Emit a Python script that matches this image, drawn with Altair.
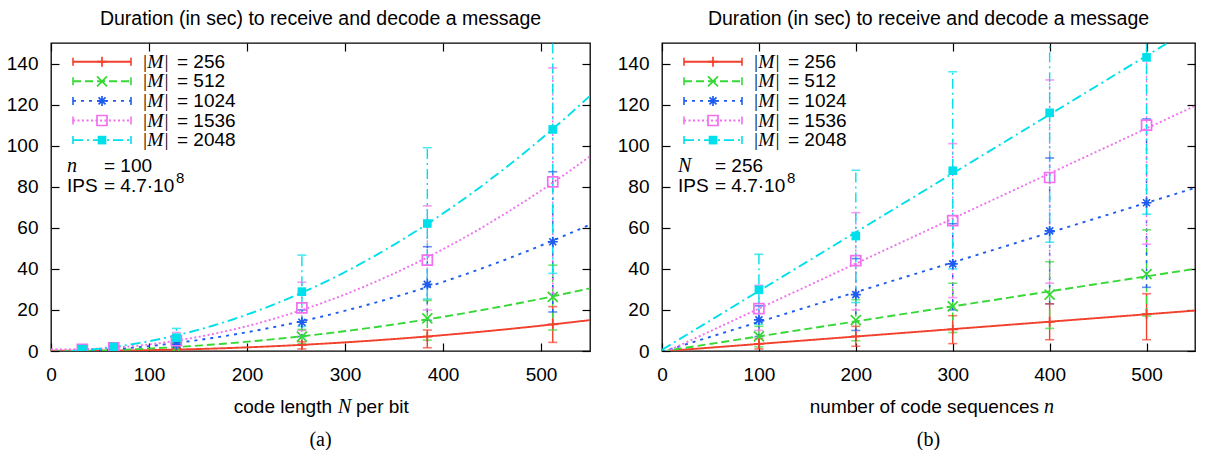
import altair as alt
import pandas as pd

SANS = "Liberation Sans"
SERIF = "Liberation Serif"

SERIES = ["256", "512", "1024", "1536", "2048"]
COLORS = ["#f2402c", "#36d836", "#1e5cf0", "#f070f0", "#00e0ea"]
DASHES = [[1, 0], [8, 4], [3, 5], [2, 2.5], [10, 4, 2, 4]]
SHAPES = ["M-1,0H1M0,-1V1", "M-1,-1L1,1M-1,1L1,-1",
          "M-1,0H1M0,-1V1M-0.7,-0.7L0.7,0.7M-0.7,0.7L0.7,-0.7",
          "square", "square"]

TITLE = "Duration (in sec) to receive and decode a message"
X_TICKS = [0, 100, 200, 300, 400, 500]
Y_TICKS = [0, 20, 40, 60, 80, 100, 120, 140]

# ---- panel (a): code length N per bit ----
A_X = [32, 64, 128, 256, 384, 512]
A_Y_256 = [0.1, 0.2, 0.8, 3.0, 7.0, 13.0]
A_LO_256 = [0.0, 0.1, 0.3, 1.0, 1.6, 4.2]
A_HI_256 = [0.3, 0.5, 1.5, 4.5, 10.2, 21.6]
A_Y_512 = [0.2, 0.4, 1.6, 7.0, 15.9, 26.4]
A_LO_512 = [0.1, 0.2, 0.8, 3.5, 5.3, 10.2]
A_HI_512 = [0.4, 0.8, 2.6, 10.5, 24.6, 41.8]
A_Y_1024 = [0.4, 0.8, 3.2, 14.0, 32.4, 53.2]
A_LO_1024 = [0.2, 0.4, 1.5, 7.0, 15.0, 19.0]
A_HI_1024 = [0.7, 1.4, 5.0, 20.0, 50.8, 87.3]
A_Y_1536 = [0.8, 1.5, 5.0, 21.0, 44.3, 82.4]
A_LO_1536 = [0.3, 0.7, 2.5, 10.0, 20.0, 28.0]
A_HI_1536 = [1.3, 2.5, 9.0, 33.5, 70.7, 137.9]
A_Y_2048 = [0.9, 2.0, 6.5, 28.9, 62.1, 107.9]
A_LO_2048 = [0.4, 1.0, 3.0, 12.0, 25.3, 37.8]
A_HI_2048 = [1.5, 3.0, 11.0, 46.7, 99.0, 175.0]

# ---- panel (b): number of code sequences n ----
B_X = [100, 200, 300, 400, 500]
B_Y_256 = [3.5, 7.1, 10.5, 14.2, 18.0]
B_LO_256 = [1.0, 2.3, 3.6, 5.5, 5.5]
B_HI_256 = [6.0, 12.0, 17.2, 23.0, 27.9]
B_Y_512 = [7.1, 15.0, 21.7, 27.5, 37.4]
B_LO_512 = [2.0, 5.0, 9.0, 11.0, 17.0]
B_HI_512 = [12.0, 25.0, 33.0, 43.5, 59.0]
B_Y_1024 = [15.2, 27.5, 42.4, 58.5, 72.2]
B_LO_1024 = [7.0, 10.0, 20.0, 23.0, 31.0]
B_HI_1024 = [22.0, 45.0, 62.0, 94.0, 113.0]
B_Y_1536 = [20.6, 44.0, 63.5, 84.5, 110.0]
B_LO_1536 = [10.0, 20.0, 26.0, 33.0, 52.0]
B_HI_1536 = [32.0, 67.4, 101.0, 132.0, 170.0]
B_Y_2048 = [29.8, 56.0, 87.8, 116.0, 143.0]
B_LO_2048 = [13.0, 23.6, 40.0, 53.0, 66.6]
B_HI_2048 = [47.1, 88.0, 136.0, 175.0, 220.0]

W_LEFT, W_RIGHT, H = 539, 533, 308
LEG_Y = [18.7, 38.3, 57.9, 77.5, 97.1]

color = alt.Color("series:N", scale=alt.Scale(domain=SERIES, range=COLORS), legend=None)
dash = alt.StrokeDash("series:N", scale=alt.Scale(domain=SERIES, range=DASHES), legend=None)
shape = alt.Shape("series:N", scale=alt.Scale(domain=SERIES, range=SHAPES), legend=None)


def axis(orient, values, labels=True):
    kw = dict(orient=orient, values=values, offset=-8, tickSize=8, tickColor="black",
              tickWidth=1.2, domain=False, grid=False, title=None, labels=labels)
    if labels:
        kw.update(labelFont=SANS, labelFontSize=19, labelColor="black",
                  labelPadding=14 if orient == "bottom" else 13, labelFlush=False,
                  labelOverlap=False)
    return alt.Axis(**kw)


def panel(xs, means, lows, highs, method, order, var_sym, var_val, xt_left, xt_sym, xt_right,
          xt_pos, sub, width):
    rows = []
    for s, m, lo, hi in zip(SERIES, means, lows, highs):
        for x, a, b, c in zip(xs, m, lo, hi):
            rows.append({"series": s, "x": x, "y": a, "lo": b, "hi": c})
    df = pd.DataFrame(rows)
    xsc = alt.Scale(domain=[0, 550], nice=False, zero=False)
    ysc = alt.Scale(domain=[0, 150], nice=False)
    base = alt.Chart(df)
    X = alt.X("x:Q", scale=xsc, axis=None)

    bars = base.mark_rule(strokeWidth=1.4, clip=True).encode(
        x=X, y=alt.Y("lo:Q", scale=ysc, axis=None), y2="hi:Q", color=color, strokeDash=dash)
    cap_lo = base.mark_tick(orient="horizontal", size=9, thickness=1.6, clip=True).encode(
        x=X, y=alt.Y("lo:Q", axis=None), color=color)
    cap_hi = base.mark_tick(orient="horizontal", size=9, thickness=1.6, clip=True).encode(
        x=X, y=alt.Y("hi:Q", axis=None), color=color)
    fit = base.transform_regression(
        "x", "y", groupby=["series"], method=method, order=order, extent=[0, 550]
    ).mark_line(strokeWidth=1.9, clip=True).encode(
        x=alt.X("x:Q", scale=xsc, axis=axis("bottom", X_TICKS)),
        y=alt.Y("y:Q", scale=ysc, axis=axis("left", Y_TICKS)),
        color=color, strokeDash=dash)
    mirror = base.mark_point(opacity=0).encode(
        x=alt.X("x:Q", axis=axis("top", X_TICKS, False)),
        y=alt.Y("y:Q", axis=axis("right", Y_TICKS, False)))
    pts_open = base.transform_filter(alt.datum.series != "2048").mark_point(
        filled=False, size=100, strokeWidth=1.7, opacity=1, clip=True).encode(
        x=X, y=alt.Y("y:Q", axis=None), color=color, shape=shape)
    pts_fill = base.transform_filter(alt.datum.series == "2048").mark_point(
        filled=True, shape="square", size=75, opacity=1, clip=True).encode(
        x=X, y=alt.Y("y:Q", axis=None), color=color)

    # legend (top-left, inside the plot)
    leg = pd.DataFrame({"series": SERIES, "ry": LEG_Y, "eq": ["= " + s for s in SERIES]})
    leg["r1"] = leg["ry"] - 4
    leg["r2"] = leg["ry"] + 4
    lb = alt.Chart(leg)
    PY = alt.Y("ry:Q", scale=None, axis=None)
    leg_line = lb.mark_rule(strokeWidth=1.9).encode(
        x=alt.value(22), x2=alt.value(80), y=PY, color=color, strokeDash=dash)
    leg_c1 = lb.mark_rule(strokeWidth=1.6).encode(
        x=alt.value(22), y=alt.Y("r1:Q", scale=None, axis=None), y2="r2:Q", color=color)
    leg_c2 = lb.mark_rule(strokeWidth=1.6).encode(
        x=alt.value(80), y=alt.Y("r1:Q", scale=None, axis=None), y2="r2:Q", color=color)
    leg_po = lb.transform_filter(alt.datum.series != "2048").mark_point(
        filled=False, size=100, strokeWidth=1.7, opacity=1).encode(
        x=alt.value(51), y=PY, color=color, shape=shape)
    leg_pf = lb.transform_filter(alt.datum.series == "2048").mark_point(
        filled=True, shape="square", size=75, opacity=1).encode(
        x=alt.value(51), y=PY, color=color)
    leg_m = lb.mark_text(text="|M|", align="left", baseline="middle", font=SERIF,
                         fontStyle="italic", fontSize=19.5, color="black").encode(
        x=alt.value(91), y=PY)
    leg_eq = lb.mark_text(align="left", baseline="middle", font=SANS, fontSize=19,
                          color="black").encode(x=alt.value(126), y=PY, text="eq:N")

    one = alt.Chart(pd.DataFrame({"k": [0]}))

    def txt(s, x, y, font=SANS, size=19, style="normal", align="left"):
        return one.mark_text(text=s, align=align, baseline="alphabetic", font=font,
                             fontSize=size, fontStyle=style, color="black").encode(
            x=alt.value(x), y=alt.value(y))

    notes = [
        txt(var_sym, 16, 129, SERIF, 20, "italic"),
        txt(var_val, 53, 129),
        txt("IPS", 16, 149),
        txt("= 4.7\u00b710", 53, 149),
        txt("8", 125, 140, size=15),
        txt(xt_left, xt_pos[0], 370, align="right"),
        txt(xt_sym, xt_pos[1], 370, SERIF, 20, "italic", align="left"),
        txt(xt_right, xt_pos[2], 370, align="left") if xt_right else None,
        txt(sub, width / 2, 403, SERIF, 20, align="center"),
    ]
    notes = [n for n in notes if n is not None]

    layers = [bars, cap_lo, cap_hi, fit, mirror, pts_open, pts_fill,
              leg_line, leg_c1, leg_c2, leg_po, leg_pf, leg_m, leg_eq] + notes
    return alt.layer(*layers).resolve_axis(x="independent", y="independent").properties(
        width=width, height=H,
        title=alt.TitleParams(TITLE, font=SANS, fontSize=19.5, fontWeight="normal",
                              color="black", anchor="middle", offset=13))


left = panel(A_X,
             [A_Y_256, A_Y_512, A_Y_1024, A_Y_1536, A_Y_2048],
             [A_LO_256, A_LO_512, A_LO_1024, A_LO_1536, A_LO_2048],
             [A_HI_256, A_HI_512, A_HI_1024, A_HI_1536, A_HI_2048],
             "poly", 2, "n", "= 100", "code length", "N", "per bit",
             (281, 287, 305), "(a)", W_LEFT)
right = panel(B_X,
              [B_Y_256, B_Y_512, B_Y_1024, B_Y_1536, B_Y_2048],
              [B_LO_256, B_LO_512, B_LO_1024, B_LO_1536, B_LO_2048],
              [B_HI_256, B_HI_512, B_HI_1024, B_HI_1536, B_HI_2048],
              "linear", 1, "N", "= 256", "number of code sequences", "n", None,
              (377, 382, 0), "(b)", W_RIGHT)

chart = alt.hconcat(left, right, spacing=24).configure_view(
    stroke="black", strokeWidth=1.3).properties(
    background="white",
    padding={"left": -3, "top": 0, "right": 0, "bottom": -1})

chart.save("out.html", embed_options={"renderer": "svg", "actions": False})
